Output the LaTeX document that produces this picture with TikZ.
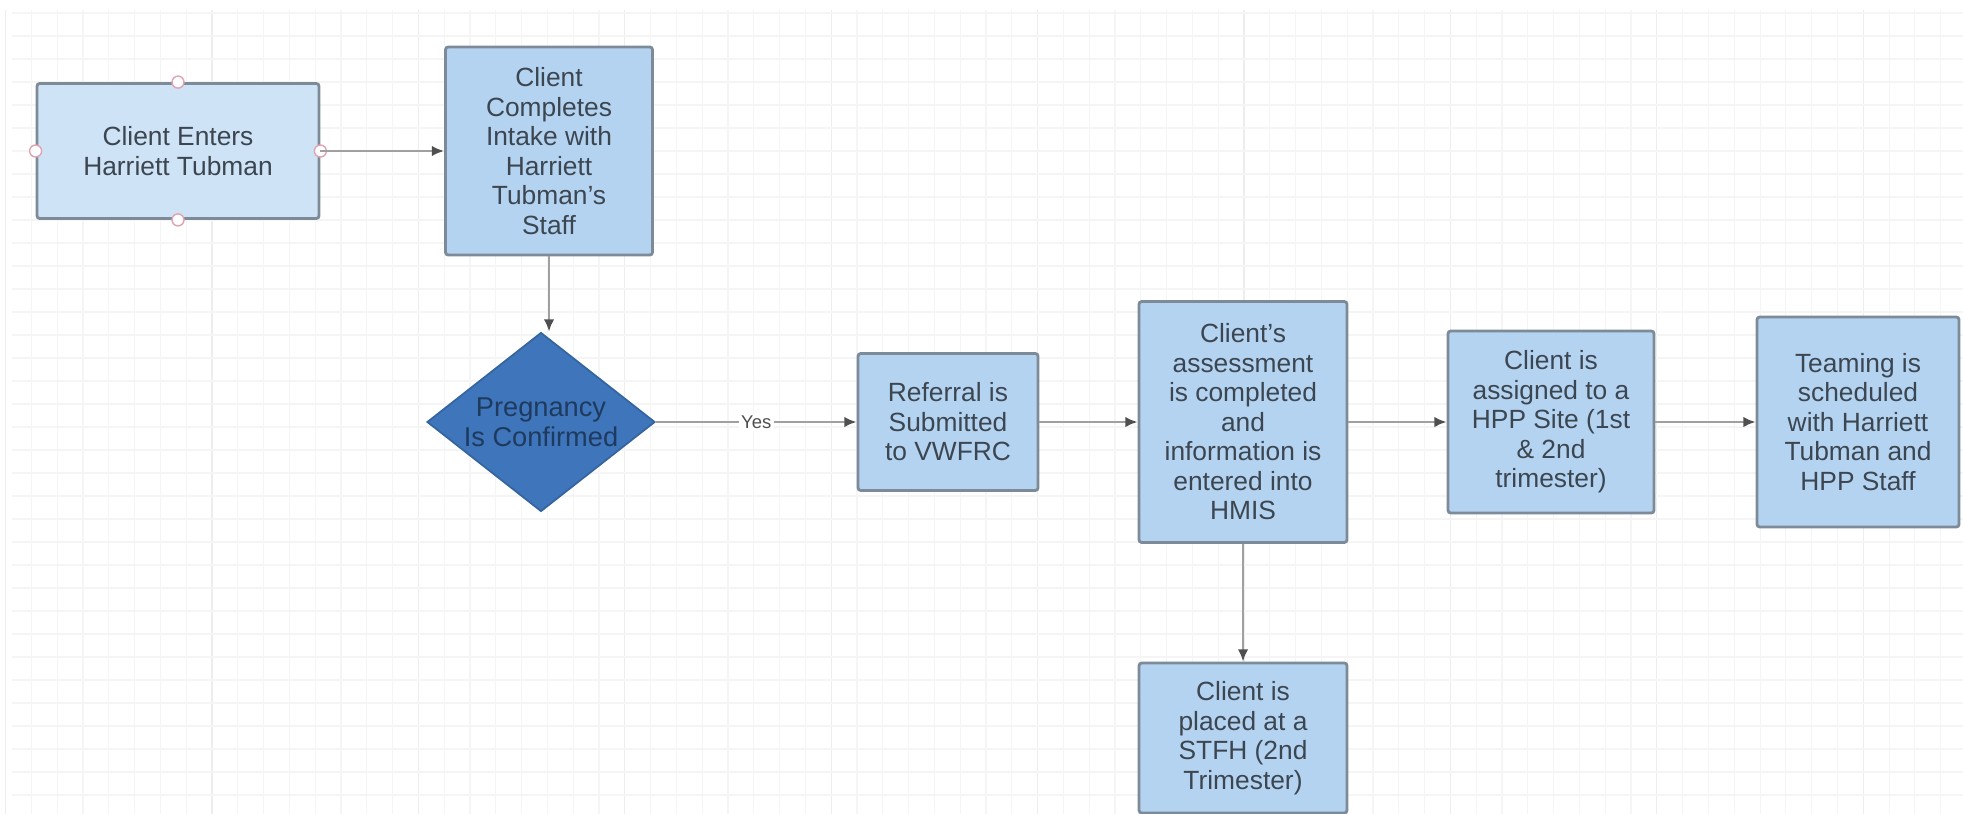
\documentclass[tikz,border=0pt]{standalone}
\usepackage{fontspec}
\setmainfont{Liberation Sans}
\usetikzlibrary{shapes.geometric,arrows.meta}

\definecolor{boxfill}{HTML}{B4D3F1}
\definecolor{startfill}{HTML}{CFE3F6}
\definecolor{boxline}{HTML}{7D8B99}
\definecolor{decfill}{HTML}{3F75BA}
\definecolor{decline}{HTML}{35659F}
\definecolor{txt}{HTML}{3C4650}
\definecolor{dectxt}{HTML}{1F3A5F}
\definecolor{flowline}{HTML}{A0A0A0}
\definecolor{tipcol}{HTML}{4F4F4F}
\definecolor{gridcol}{HTML}{F5F5F5}
\definecolor{gridmajor}{HTML}{EDEDED}
\definecolor{handlecol}{HTML}{E3A3AE}

\tikzset{
  proc/.style={draw=boxline, fill=boxfill, line width=1.6pt, rounded corners=1.5pt,
    inner sep=0pt, align=center, text=txt, font=\fontsize{15}{16.8}\selectfont},
  decision/.style={diamond, draw=decline, fill=decfill, line width=1pt, inner sep=0pt},
  flow/.style={draw=flowline, line width=1.4pt, -{Latex[length=7pt,width=6pt,color=tipcol]}},
  handle/.style={circle, draw=handlecol, fill=white, line width=0.8pt, inner sep=0pt, minimum size=0.24cm},
}

\begin{document}
\begin{tikzpicture}[x=0.02cm, y=-0.02cm]
\useasboundingbox (0,0) rectangle (1963,814);

% 背景网格
\fill[white] (0,0) rectangle (1963,814);
\foreach \i in {0,...,75} {
    \draw[gridcol, line width=0.6pt] ({31.4+25.8*\i},10) -- ({31.4+25.8*\i},814);
}
\foreach \i in {0,...,9} {
    \draw[gridmajor, line width=0.7pt] ({5.6+25.8*8*\i},10) -- ({5.6+25.8*8*\i},814);
}
\foreach \j in {0,...,34} {
    \draw[gridcol, line width=0.6pt] (12,{13+23*\j}) -- (1963,{13+23*\j});
}

% 第一行的两个方框
\node[proc, fill=startfill, minimum width=5.64cm, minimum height=2.7cm] (enter) at (178,151)
    {Client Enters\\Harriett Tubman};
\node[proc, minimum width=4.14cm, minimum height=4.16cm] (intake) at (549,151)
    {Client\\Completes\\Intake with\\Harriett\\Tubman's\\Staff};

% 选中框上的小圆圈
\foreach \side in {north, south, west, east} {
    \node[handle] at (enter.\side) {};
}

% 判断菱形
\node[decision, minimum width=4.56cm, minimum height=3.58cm,
    label={[text=dectxt, align=center, font=\fontsize{15.5}{17}\selectfont]center:Pregnancy\\Is Confirmed}]
    (preg) at (541,422) {};

% 第二行的方框
\node[proc, minimum width=3.6cm, minimum height=2.74cm] (referral) at (948,422)
    {Referral is\\Submitted\\to VWFRC};
\node[proc, minimum width=4.16cm, minimum height=4.82cm] (assess) at (1243,422)
    {Client's\\assessment\\is completed\\and\\information is\\entered into\\HMIS};
\node[proc, minimum width=4.12cm, minimum height=3.64cm] (assign) at (1551,422)
    {Client is\\assigned to a\\HPP Site (1st\\\& 2nd\\trimester)};
\node[proc, minimum width=4.04cm, minimum height=4.2cm] (team) at (1858,422)
    {Teaming is\\scheduled\\with Harriett\\Tubman and\\HPP Staff};
\node[proc, minimum width=4.16cm, minimum height=3.0cm] (stfh) at (1243,738)
    {Client is\\placed at a\\STFH (2nd\\Trimester)};

% 连接箭头
\draw[flow] (enter) -- (intake);
\draw[flow] (intake.south) -- (intake.south |- preg.north);
\draw[flow] (preg) -- node[fill=white, text=tipcol, inner sep=1.5pt,
    font=\fontsize{10.5}{12}\selectfont] {Yes} (referral);
\foreach \a/\b in {referral/assess, assess/assign, assign/team, assess/stfh} {
    \draw[flow] (\a) -- (\b);
}

\end{tikzpicture}
\end{document}
